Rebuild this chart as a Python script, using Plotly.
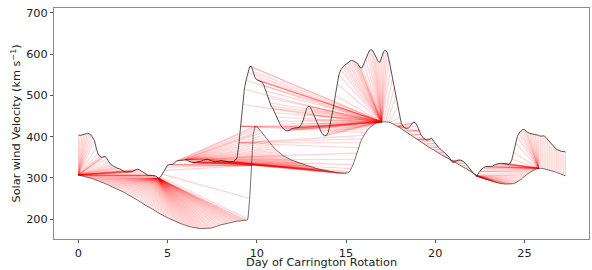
import numpy as np
import plotly.graph_objects as go

# Day of Carrington rotation, 0.1-day sampling
days = [round(0.1 * k, 1) for k in range(274)]

# Observed solar wind speed (upper, dark curve), km/s
observed = [
    404, 403, 404, 405, 407, 408, 407, 404, 398, 390,
    372, 358, 352, 350, 351, 352, 346, 338, 333, 330,
    327, 325, 323, 322, 319, 316, 315, 314, 314, 314,
    315, 317, 319, 321, 320, 317, 314, 310, 307, 306,
    306, 306, 306, 305, 302, 299, 302, 309, 318, 326,
    331, 332, 332, 333, 337, 341, 342, 342, 343, 343,
    344, 343, 340, 338, 337, 337, 338, 339, 339, 341,
    343, 345, 345, 344, 342, 340, 339, 339, 340, 341,
    342, 341, 340, 339, 339, 339, 339, 340, 343, 350,
    385, 425, 478, 515, 537, 556, 570, 570, 558, 543,
    538, 536, 535, 532, 524, 511, 495, 482, 474, 468,
    458, 447, 438, 430, 423, 418, 415, 414, 415, 418,
    420, 421, 421, 422, 423, 430, 440, 455, 469, 474,
    471, 462, 452, 441, 431, 420, 412, 405, 402, 403,
    410, 428, 447, 472, 500, 528, 550, 562, 569, 573,
    576, 579, 582, 585, 584, 582, 579, 574, 567, 567,
    578, 589, 600, 608, 611, 608, 600, 593, 583, 580,
    592, 606, 610, 605, 588, 565, 540, 518, 498, 472,
    447, 432, 425, 421, 420, 421, 425, 432, 435, 433,
    425, 414, 405, 398, 394, 392, 392, 394, 396, 390,
    383, 378, 374, 369, 365, 362, 358, 354, 349, 341,
    337, 339, 342, 343, 343, 342, 339, 335, 330, 324,
    318, 313, 308, 305, 309, 316, 322, 325, 327, 327,
    327, 327, 328, 331, 333, 334, 335, 335, 335, 334,
    334, 333, 335, 345, 362, 385, 400, 409, 413, 417,
    417, 413, 410, 408, 407, 406, 406, 405, 403, 401,
    401, 402, 398, 393, 390, 384, 378, 373, 369, 367,
    365, 364, 364, 363,
]

# Model solar wind speed (lower curve), km/s
model = [
    307, 306, 305, 304, 303, 302, 301, 299, 298, 296,
    295, 293, 291, 290, 288, 286, 284, 282, 281, 279,
    277, 275, 273, 271, 268, 266, 264, 261, 259, 256,
    254, 251, 249, 246, 243, 241, 238, 236, 233, 230,
    228, 225, 222, 220, 217, 215, 212, 210, 207, 205,
    203, 201, 199, 197, 195, 193, 191, 189, 188, 186,
    185, 183, 182, 181, 180, 179, 178, 178, 177, 177,
    177, 177, 177, 178, 178, 179, 180, 182, 183, 185,
    186, 188, 189, 190, 191, 192, 193, 194, 194, 195,
    195, 196, 196, 197, 197, 200, 250, 330, 405, 425,
    424, 420, 415, 410, 404, 399, 393, 387, 381, 376,
    371, 367, 363, 359, 356, 353, 351, 348, 346, 344,
    342, 341, 339, 338, 336, 335, 333, 332, 330, 329,
    328, 326, 325, 323, 322, 321, 320, 319, 318, 317,
    316, 315, 314, 313, 313, 312, 312, 311, 311, 311,
    311, 312, 315, 322, 332, 345, 360, 373, 385, 395,
    403, 410, 416, 421, 425, 428, 431, 433, 434, 435,
    436, 436, 436, 436, 435, 434, 432, 430, 427, 425,
    422, 419, 416, 414, 411, 408, 405, 402, 399, 396,
    393, 390, 387, 384, 381, 378, 375, 373, 370, 368,
    365, 362, 360, 357, 355, 352, 350, 347, 345, 342,
    340, 338, 335, 333, 330, 328, 325, 323, 320, 318,
    315, 312, 309, 306, 304, 302, 300, 298, 297, 296,
    295, 293, 292, 290, 289, 288, 287, 286, 285, 285,
    285, 285, 285, 285, 286, 288, 290, 292, 296, 300,
    304, 307, 310, 313, 316, 318, 320, 322, 323, 323,
    323, 322, 321, 320, 319, 318, 316, 315, 313, 312,
    310, 308, 307, 305,
]

x_ticks = [0, 5, 10, 15, 20, 25]
y_ticks = [200, 300, 400, 500, 600, 700]
x_title = "Day of Carrington Rotation"
y_title = "Solar wind Velocity (km s<sup>−1</sup>)"


def dtw_path(a, b):
    a = np.asarray(a, float)
    b = np.asarray(b, float)
    n, m = len(a), len(b)
    cost = np.abs(np.subtract.outer(a, b))
    D = np.full((n + 1, m + 1), np.inf)
    D[0, 0] = 0.0
    for i in range(1, n + 1):
        Di1 = D[i - 1]
        Di = D[i]
        ci = cost[i - 1]
        for j in range(1, m + 1):
            Di[j] = ci[j - 1] + min(Di1[j], Di[j - 1], Di1[j - 1])
    i, j = n, m
    path = [(i - 1, j - 1)]
    while i > 1 or j > 1:
        opts = [(D[i - 1, j - 1], i - 1, j - 1), (D[i - 1, j], i - 1, j), (D[i, j - 1], i, j - 1)]
        _, i, j = min(opts, key=lambda o: o[0])
        path.append((i - 1, j - 1))
    return path[::-1]


path = dtw_path(observed, model)

fig = go.Figure()

n_groups = 50
for g in range(n_groups):
    xs, ys = [], []
    for k in range(g, len(path), n_groups):
        i, j = path[k]
        xs += [days[i], days[j], None]
        ys += [observed[i], model[j], None]
    fig.add_trace(go.Scatter(x=xs, y=ys, mode="lines",
                             line=dict(color="rgba(255,0,0,0.18)", width=1.1),
                             hoverinfo="skip", showlegend=False))

fig.add_trace(go.Scatter(x=days, y=model, mode="lines",
                         line=dict(color="rgba(60,40,40,0.75)", width=0.9),
                         showlegend=False))
fig.add_trace(go.Scatter(x=days, y=observed, mode="lines",
                         line=dict(color="rgba(30,30,30,0.85)", width=0.9),
                         showlegend=False))

axis_common = dict(showline=True, linecolor="#8a8a8a", linewidth=1, mirror=True,
                   ticks="outside", ticklen=3, tickcolor="#555", showgrid=False,
                   zeroline=False, automargin=False,
                   tickfont=dict(family="DejaVu Sans", size=11.3, color="#222"))

title_font = dict(family="DejaVu Sans", size=11.3, color="#222")

fig.update_layout(
    width=592, height=270,
    margin=dict(l=54, r=3, t=8, b=31),
    paper_bgcolor="white", plot_bgcolor="white",
    font=dict(family="DejaVu Sans", size=11.3, color="#222"),
    xaxis=dict(range=[-1.37, 28.62], tickvals=x_ticks, **axis_common),
    yaxis=dict(range=[151.6, 712.1], tickvals=y_ticks, **axis_common),
    annotations=[
        dict(text=x_title, xref="paper", yref="paper", x=0.5, y=-0.134,
             xanchor="center", yanchor="bottom", showarrow=False, font=title_font,
             borderpad=0),
        dict(text=y_title, xref="paper", yref="paper", x=-0.071, y=0.5,
             xanchor="center", yanchor="middle", textangle=-90, showarrow=False,
             font=title_font),
    ],
)

fig.write_html("out.html", config={"displayModeBar": False},
               post_script="document.body.style.margin='0px';document.body.style.padding='0px';")
